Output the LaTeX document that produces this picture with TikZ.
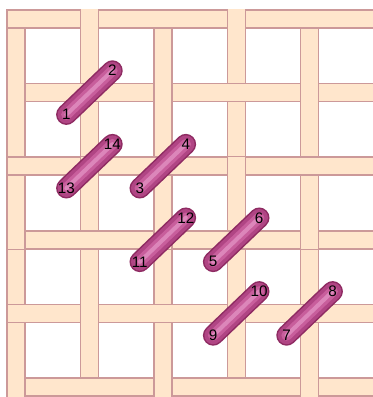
\documentclass[tikz,border=0pt]{standalone}
\usepackage{fontspec}
\setmainfont{Liberation Sans}
\definecolor{canvas}{HTML}{FFE6CC}
\definecolor{canvasedge}{HTML}{CC9999}
\definecolor{yarnedge}{HTML}{8E2B62}
\definecolor{yarnbody}{HTML}{B04584}
\definecolor{yarnlight}{HTML}{C85E9C}
\definecolor{yarnshine}{HTML}{DC86BA}
\begin{document}
\begin{tikzpicture}[x=0.03cm, y=-0.03cm,
  strip/.style={fill=canvas, draw=canvasedge, line width=1.2pt},
  stripline/.style={draw=canvasedge, line width=1.2pt},
  yarnout/.style={draw=yarnedge, line width=17.6pt, line cap=round},
  yarnin/.style={draw=yarnbody, line width=15pt, line cap=round},
  yarnlit/.style={draw=yarnlight, line width=9pt, line cap=round},
  yarnhi/.style={draw=yarnshine, line width=3.5pt, line cap=round},
  num/.style={font=\fontsize{13}{13}\selectfont, inner sep=0pt}]
  \useasboundingbox (0,0) rectangle (373,397);
  \begin{scope}
    \clip (0,0) rectangle (373,397);
    \foreach \i in {0,...,4}
      \draw[strip] ({16+73.4*\i-9},10) rectangle ({16+73.4*\i+9},405);
    \foreach \j in {0,...,5}
      \draw[strip] (7,{19+73.6*\j-9}) rectangle (380,{19+73.6*\j+9});
    \foreach \i in {0,...,4}
      \foreach \j in {0,...,5} {
        \pgfmathtruncatemacro\vup{mod(\i+\j,2)}
        \ifnum\vup=1
          \fill[canvas] ({16+73.4*\i-9},{19+73.6*\j-9.6}) rectangle ({16+73.4*\i+9},{19+73.6*\j+9.6});
          \draw[stripline] ({16+73.4*\i-9},{19+73.6*\j-9.6}) -- ({16+73.4*\i-9},{19+73.6*\j+9.6})
                           ({16+73.4*\i+9},{19+73.6*\j-9.6}) -- ({16+73.4*\i+9},{19+73.6*\j+9.6});
        \fi
      }
  \end{scope}

  \foreach \a/\b/\i/\j in {1/2/1/1, 13/14/1/2, 3/4/2/2, 11/12/2/3, 5/6/3/3, 9/10/3/4, 7/8/4/4} {
    \coordinate (x\a) at ({16+73.4*\i},{19+73.6*\j});
    \coordinate (e\a) at ([shift={(-23,22)}]x\a);
    \coordinate (e\b) at ([shift={(23,-22)}]x\a);
    \draw[yarnout] (e\a) -- (e\b);
    \draw[yarnin] (e\a) -- (e\b);
    \draw[yarnlit] (e\a) -- (e\b);
    \draw[yarnhi] (e\a) -- (e\b);
    \node[num] (n\a) at (e\a) {\a};
    \node[num] (n\b) at (e\b) {\b};
  }
\end{tikzpicture}
\end{document}
